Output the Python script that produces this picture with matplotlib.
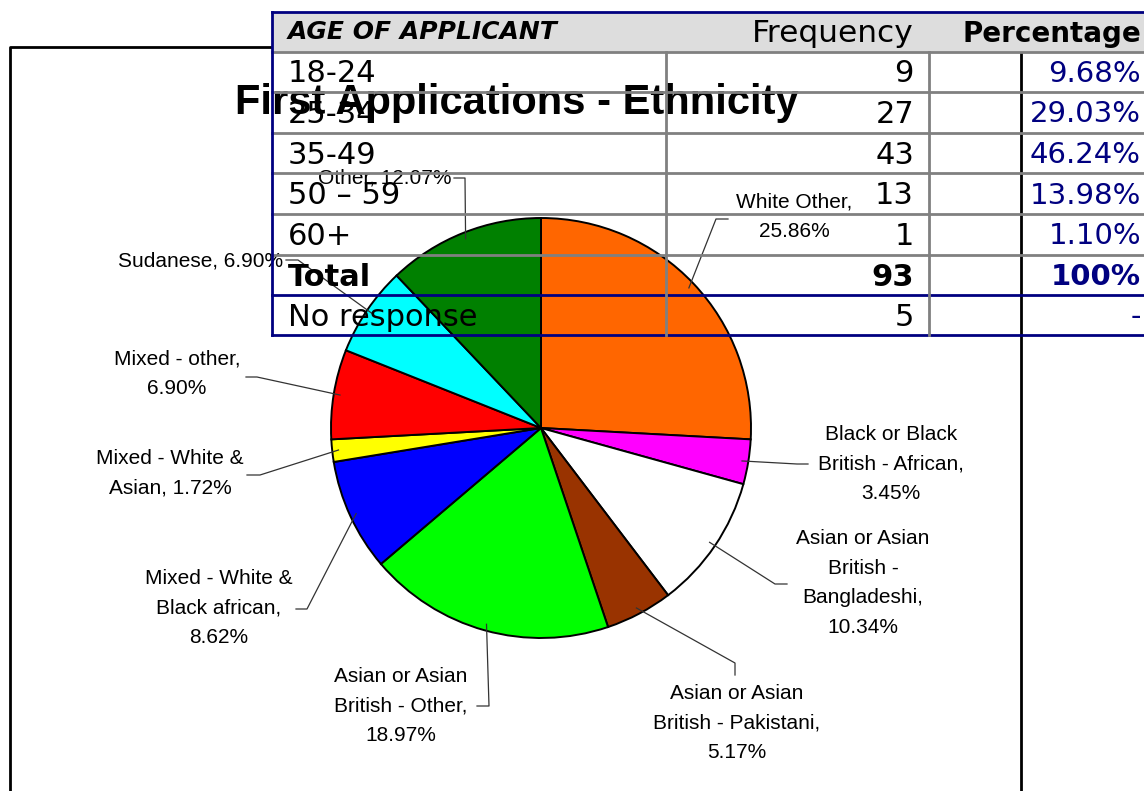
import matplotlib.pyplot as plt
from matplotlib.patches import Rectangle
import numpy as np

# tamanho da imagem em pixels
W, H = 1144, 791

# dados do grafico de pizza
grupos = ['White Other', 'Black or Black British - African',
          'Asian or Asian British - Bangladeshi', 'Asian or Asian British - Pakistani',
          'Asian or Asian British - Other', 'Mixed - White & Black african',
          'Mixed - White & Asian', 'Mixed - other', 'Sudanese', 'Other']
contagem = [15, 2, 6, 3, 11, 5, 1, 4, 4, 7]
rotulos = ['White Other,\n25.86%', 'Black or Black\nBritish - African,\n3.45%',
           'Asian or Asian\nBritish -\nBangladeshi,\n10.34%',
           'Asian or Asian\nBritish - Pakistani,\n5.17%',
           'Asian or Asian\nBritish - Other,\n18.97%',
           'Mixed - White &\nBlack african,\n8.62%', 'Mixed - White &\nAsian, 1.72%',
           'Mixed - other,\n6.90%', 'Sudanese, 6.90%', 'Other, 12.07%']
cores = ['#ff6600', '#ff00ff', '#ffffff', '#993300', '#00ff00',
         '#0000ff', '#ffff00', '#ff0000', '#00ffff', '#008000']

# dados da tabela
idades = ['18-24', '25-34', '35-49', '50 – 59', '60+', 'Total', 'No response']
frequencia = ['9', '27', '43', '13', '1', '93', '5']
percentual = ['9.68%', '29.03%', '46.24%', '13.98%', '1.10%', '100%', '-']


def Y(y):
    # converte y de pixel (de cima) para coordenada do eixo
    return H - y


fig = plt.figure(figsize=(W / 100, H / 100), dpi=100)
ax = fig.add_axes([0, 0, 1, 1])

# moldura do grafico
ax.plot([10, 10, 1021, 1021], [Y(791), Y(47), Y(47), Y(791)], color='black', lw=2, zorder=1)

# pizza
cx, cy, r = 541, Y(428), 210
fatias, _ = ax.pie(contagem, colors=cores, startangle=90, counterclock=False,
                   center=(cx, cy), radius=r, frame=True,
                   wedgeprops=dict(edgecolor='black', linewidth=1.4, zorder=2))
ax.set_xlim(0, W)
ax.set_ylim(0, H)
ax.set_aspect('equal')
ax.axis('off')

# posicao dos rotulos (x, y, alinhamento) e cotovelos das linhas
pos_rot = [(794, 217, 'center'), (891, 464, 'center'), (863, 583, 'center'),
           (737, 723, 'center'), (401, 706, 'center'), (219, 608, 'center'),
           (170, 473, 'center'), (177, 374, 'center'), (283, 261, 'right'),
           (451, 178, 'right')]
cotovelos = [[(728, 219), (716, 219)], [(808, 464), (797, 464)], [(787, 584), (775, 584)],
             [(735, 675), (735, 663)], [(477, 706), (489, 706)], [(296, 609), (307, 609)],
             [(247, 475), (260, 475)], [(246, 377), (257, 377)], [(286, 260), (298, 260)],
             [(454, 178), (465, 178)]]

for w, txt, (tx, ty, ha), cot in zip(fatias, rotulos, pos_rot, cotovelos):
    ang = np.deg2rad((w.theta1 + w.theta2) / 2)
    ex = cx + 0.97 * r * np.cos(ang)
    ey = cy + 0.97 * r * np.sin(ang)
    xs = [p[0] for p in cot] + [ex]
    ys = [Y(p[1]) for p in cot] + [ey]
    ax.plot(xs, ys, color='#333333', lw=0.9, zorder=3)
    ax.text(tx, Y(ty), txt, ha=ha, va='center', fontsize=15, family='Liberation Sans',
            linespacing=1.72, multialignment='center', zorder=3)

# titulo
ax.text(517, Y(103), 'First Applications - Ethnicity', ha='center', va='center',
        fontsize=30, fontweight='bold', family='Liberation Sans', zorder=3)

# tabela por cima
fonte_tab = 'DejaVu Sans'
ax.add_patch(Rectangle((272, Y(52)), W - 272, 40, facecolor='#dddddd', edgecolor='none', zorder=4))
ax.text(288, Y(32), 'AGE OF APPLICANT', ha='left', va='center', fontsize=18,
        fontweight='bold', fontstyle='italic', family=fonte_tab, zorder=6)
ax.text(914, Y(34), 'Frequency', ha='right', va='center', fontsize=22.5,
        family=fonte_tab, zorder=6)
ax.text(1141, Y(34), 'Percentage', ha='right', va='center', fontsize=20,
        fontweight='bold', family=fonte_tab, zorder=6)

linhas = [52, 92, 133, 173, 214, 255, 295, 335]
for yl in linhas[:-2]:
    ax.plot([272, W], [Y(yl), Y(yl)], color='#808080', lw=2, zorder=5)
for yl in [12, 295, 335]:
    ax.plot([272, W], [Y(yl), Y(yl)], color='#000080', lw=2, zorder=5)
ax.plot([272, 272], [Y(12), Y(335)], color='#000080', lw=2, zorder=5)
for xl in [666, 929]:
    ax.plot([xl, xl], [Y(52), Y(335)], color='#808080', lw=2, zorder=5)

for i in range(len(idades)):
    yc = (linhas[i] + linhas[i + 1]) / 2 + 2
    peso = 'bold' if idades[i] == 'Total' else 'normal'
    ax.text(288, Y(yc), idades[i], ha='left', va='center', fontsize=22,
            fontweight=peso, family=fonte_tab, zorder=6)
    ax.text(914, Y(yc), frequencia[i], ha='right', va='center', fontsize=22,
            fontweight=peso, family=fonte_tab, zorder=6)
    ax.text(1141, Y(yc), percentual[i], ha='right', va='center', fontsize=21,
            fontweight=peso, color='#000080', family=fonte_tab, zorder=6)

plt.savefig('out.png', dpi=100)
